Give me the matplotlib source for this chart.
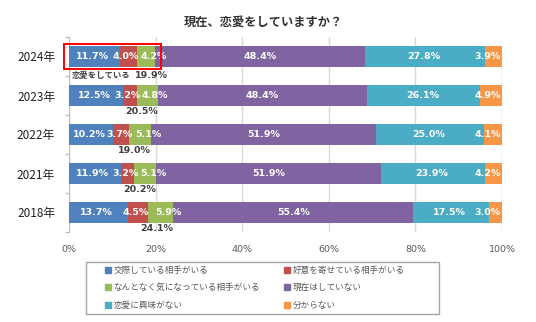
import matplotlib
matplotlib.use("Agg")
import matplotlib.pyplot as plt
from matplotlib.lines import Line2D
from matplotlib.patches import Rectangle
import numpy as np

plt.rcParams['font.family'] = ['Noto Sans CJK JP', 'DejaVu Sans']

years = ["2024年", "2023年", "2022年", "2021年", "2018年"]
categories = ["交際している相手がいる", "好意を寄せている相手がいる", "なんとなく気になっている相手がいる",
              "現在はしていない", "恋愛に興味がない", "分からない"]
colors = ["#4F81BD", "#C0504D", "#9BBB59", "#8064A2", "#4BACC6", "#F79646"]

dating = [11.7, 12.5, 10.2, 11.9, 13.7]
crush = [4.0, 3.2, 3.7, 3.2, 4.5]
curious = [4.2, 4.8, 5.1, 5.1, 5.9]
not_now = [48.4, 48.4, 51.9, 51.9, 55.4]
no_interest = [27.8, 26.1, 25.0, 23.9, 17.5]
unknown = [3.9, 4.9, 4.1, 4.2, 3.0]
in_love_total = [19.9, 20.5, 19.0, 20.2, 24.1]
xticks = [0, 20, 40, 60, 80, 100]

series = [dating, crush, curious, not_now, no_interest, unknown]
# small nudges so neighbouring labels on the narrow segments don't collide
label_shift = [-0.5, -0.5, 1.8, 0.0, -0.3, 0.0]

fig = plt.figure(figsize=(5.36, 3.22), dpi=100)
ax = fig.add_axes([69/536, 1-232/322, (502-69)/536, (232-37)/322])

y = np.arange(len(years))
left = np.zeros(len(years))
for k, (vals, col) in enumerate(zip(series, colors)):
    vals = np.array(vals)
    ax.barh(y, vals, left=left, height=0.55, color=col, zorder=3)
    for yi, (l, v) in enumerate(zip(left, vals)):
        if k == len(series) - 1:
            x, ha = 99.7, 'right'
        else:
            x, ha = l + v/2 + label_shift[k], 'center'
        ax.text(x, yi, f"{v:.1f}%", ha=ha, va='center', color='white',
                fontsize=6.8, fontweight='bold', family='DejaVu Sans', zorder=4)
    left = left + vals

# totals of the three "in love" categories, under each bar
for yi, t in enumerate(in_love_total):
    if yi == 0:
        ax.text(0.7, yi + 0.49, "恋愛をしている", ha='left', va='center',
                color='#404040', fontsize=6.0, fontweight='bold', zorder=4)
        ax.text(15.2, yi + 0.49, f"{t:.1f}%", ha='left', va='center', color='#404040',
                fontsize=6.8, fontweight='bold', family='DejaVu Sans', zorder=4)
    else:
        ax.text(t, yi + 0.42, f"{t:.1f}%", ha='right', va='center', color='#404040',
                fontsize=6.8, fontweight='bold', family='DejaVu Sans', zorder=4)

# highlight box around the 2024 "in love" segments
ax.add_patch(Rectangle((-1.2, -0.33), in_love_total[0] + 2.5, 0.66, fill=False,
                       edgecolor='red', linewidth=1.4, zorder=5, clip_on=False))

ax.set_xlim(0, 100)
ax.set_ylim(len(years) - 0.5, -0.5)
ax.set_xticks(xticks)
ax.set_xticklabels([f"{v}%" for v in xticks], fontsize=6.8, color='#595959', family='DejaVu Sans')
ax.tick_params(axis='x', length=0, pad=9)
ax.set_yticks(y)
ax.set_yticklabels(years, fontsize=8.5, color='#222222')
ax.tick_params(axis='y', length=0, pad=10)
ax.set_yticks(np.arange(len(years) + 1) - 0.5, minor=True)
ax.tick_params(axis='y', which='minor', length=3, color='#BFBFBF', width=1)
ax.xaxis.grid(True, color='#D9D9D9', linewidth=1, zorder=0)
for s in ['top', 'right', 'bottom']:
    ax.spines[s].set_visible(False)
ax.spines['left'].set_color('#BFBFBF')

fig.text(263/536, 1-22/322, "現在、恋愛をしていますか？", ha='center', va='center',
         fontsize=8.8, fontweight='bold', color='#333333')

# legend: frame drawn separately, entries laid out in two columns
fig.patches.append(Rectangle((86/536, 1-314/322), (439-86)/536, (314-262)/322,
                             transform=fig.transFigure, fill=False,
                             edgecolor='#A6A6A6', linewidth=1))
handles = [Line2D([], [], marker='s', linestyle='none', markersize=4,
                  markerfacecolor=c, markeredgecolor=c) for c in colors]
order = [0, 2, 4, 1, 3, 5]
leg = fig.legend([handles[i] for i in order], [categories[i] for i in order],
                 loc='upper left', ncol=2, bbox_to_anchor=(103/536, 1-264/322),
                 fontsize=6.2, frameon=False,
                 handlelength=0.7, handletextpad=0.3, labelspacing=1.0,
                 borderaxespad=0, borderpad=0.2, columnspacing=2.8)
for t in leg.get_texts():
    t.set_color('#595959')

fig.savefig("out.png", dpi=100)
